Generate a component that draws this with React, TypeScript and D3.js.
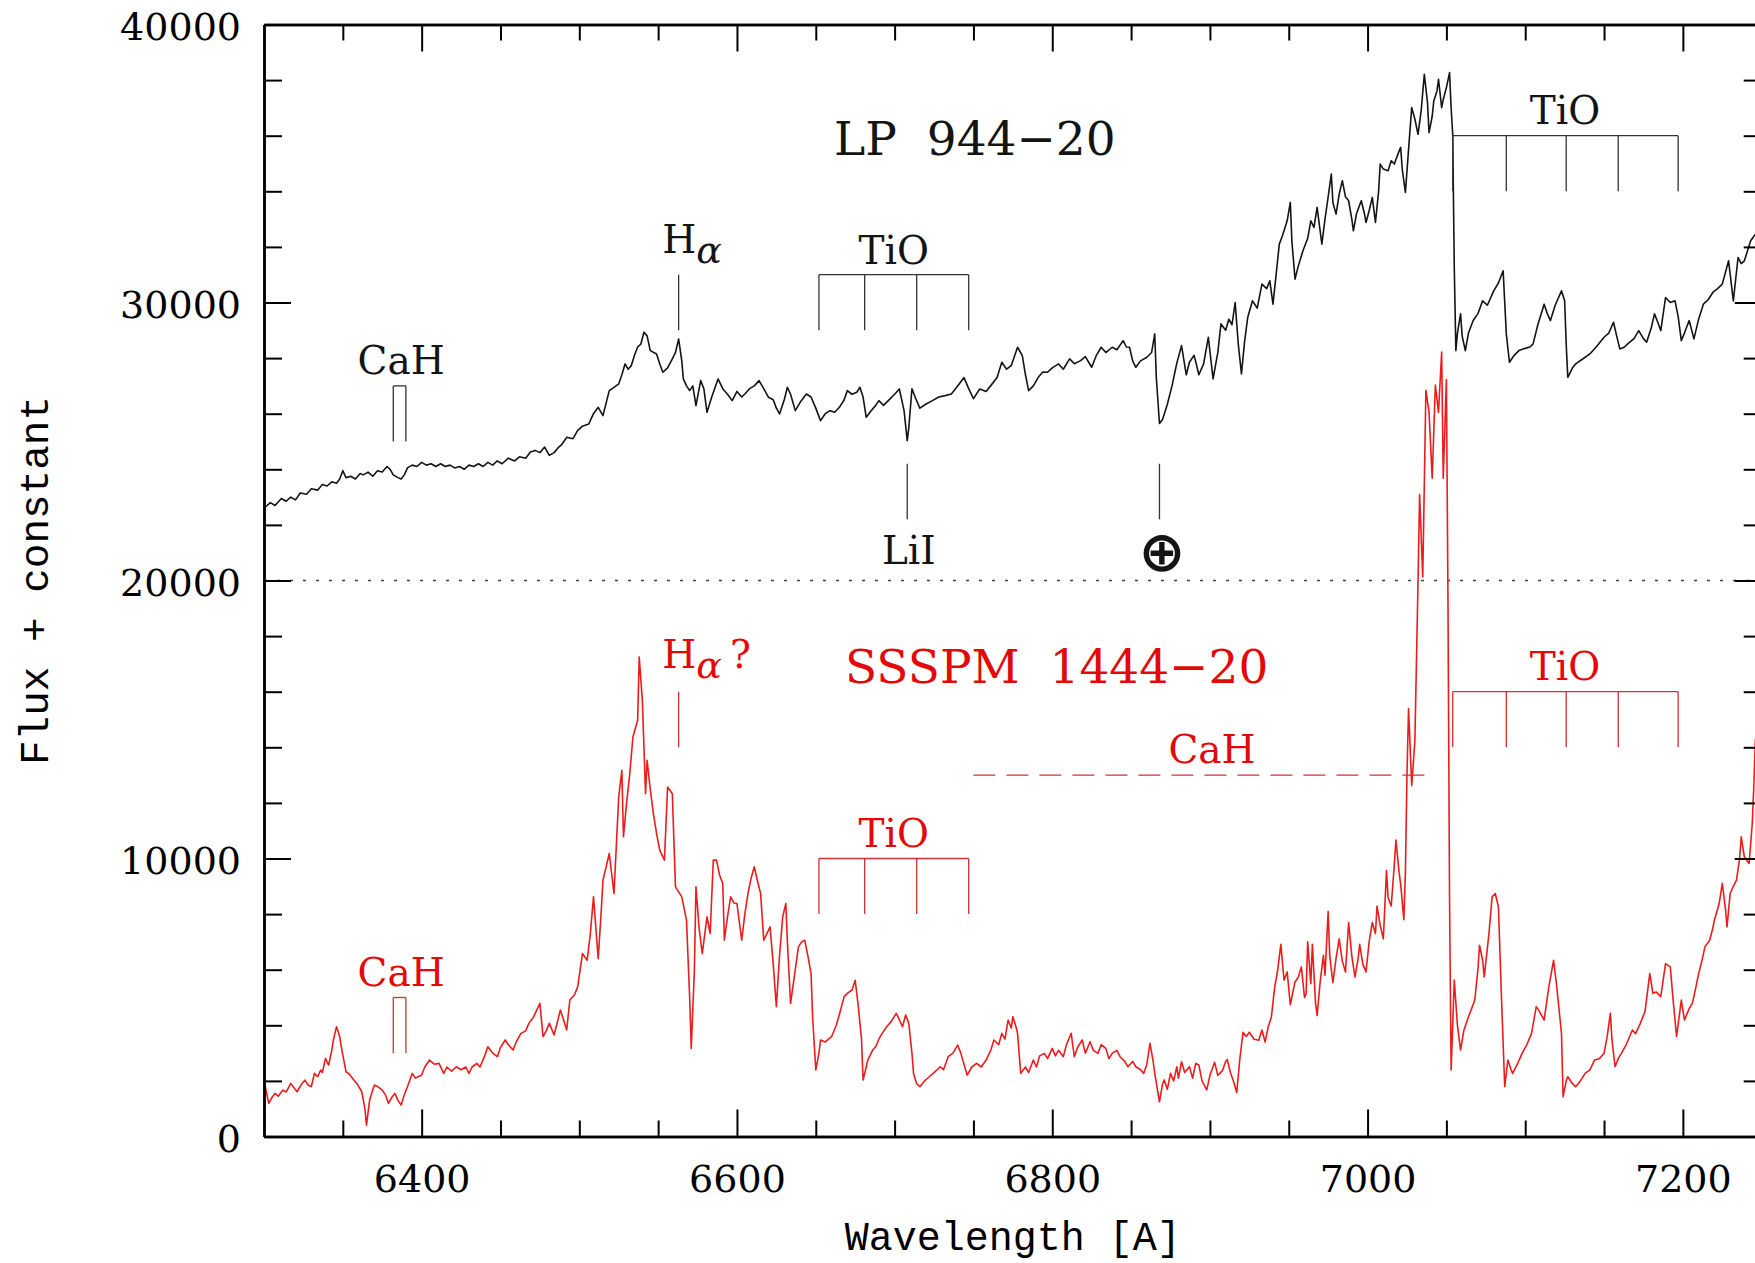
import { useEffect, useRef } from 'react'
import * as d3 from 'd3'

type Pt = [number, number]

// LP 944-20 : [wavelength A, flux + constant]
const lp944Spectrum: Pt[] = [
  [6300, 22600], [6304, 22800], [6307, 22700], [6311, 22950], [6314, 22850], [6317, 23000], [6320, 22900],
  [6323, 23150], [6327, 23100], [6330, 23300], [6334, 23250], [6337, 23450], [6340, 23400], [6343, 23550],
  [6346, 23500], [6348, 23650], [6350, 23950], [6352, 23700], [6355, 23750], [6358, 23650], [6361, 23850],
  [6363, 23800], [6366, 23900], [6369, 23750], [6372, 23950], [6375, 23900], [6378, 24100], [6380, 24000],
  [6382, 23800], [6385, 23700], [6387, 23650], [6389, 23800], [6391, 24050], [6394, 24150], [6397, 24100],
  [6400, 24250], [6403, 24150], [6406, 24200], [6409, 24100], [6412, 24200], [6415, 24100], [6418, 24150],
  [6421, 24050], [6424, 24100], [6427, 24000], [6430, 24150], [6433, 24100], [6436, 24200], [6439, 24100],
  [6442, 24250], [6445, 24150], [6448, 24300], [6451, 24200], [6455, 24400], [6459, 24300], [6462, 24450],
  [6466, 24400], [6469, 24620], [6472, 24680], [6475, 24600], [6478, 24800], [6481, 24500], [6484, 24600],
  [6487, 24800], [6489, 24900], [6492, 25150], [6496, 25100], [6499, 25400], [6502, 25550], [6506, 25630],
  [6509, 26000], [6512, 26230], [6515, 25930], [6519, 26830], [6522, 26950], [6525, 27070], [6527, 27400],
  [6529, 27790], [6531, 27600], [6533, 27730], [6535, 28100], [6537, 28400], [6539, 28500], [6541, 28930],
  [6543, 28800], [6545, 28270], [6549, 28150], [6551, 27800], [6553, 27490], [6556, 27650], [6559, 27970],
  [6561, 28200], [6563, 28690], [6565, 27900], [6566, 27250], [6568, 27000], [6570, 26830], [6572, 27000],
  [6574, 26290], [6577, 27190], [6579, 26900], [6581, 26050], [6584, 26600], [6588, 27250], [6591, 26900],
  [6594, 26700], [6597, 26470], [6600, 26800], [6603, 26600], [6605, 26710], [6608, 26900], [6611, 27000],
  [6614, 27190], [6617, 26900], [6620, 26590], [6623, 26500], [6625, 26200], [6627, 25990], [6630, 26500],
  [6632, 26950], [6634, 26700], [6637, 26110], [6640, 26400], [6644, 26710], [6647, 26600], [6650, 26200],
  [6653, 25750], [6656, 26000], [6659, 26110], [6662, 26050], [6665, 26230], [6668, 26500], [6670, 26830],
  [6673, 26700], [6676, 26770], [6678, 26950], [6680, 26600], [6682, 25870], [6685, 26100], [6688, 26300],
  [6690, 26470], [6693, 26300], [6696, 26470], [6700, 26700], [6703, 26890], [6706, 26110], [6708, 25030],
  [6709, 25500], [6711, 26900], [6713, 26600], [6716, 26200], [6720, 26350], [6724, 26470], [6728, 26600],
  [6732, 26650], [6736, 26710], [6740, 27000], [6744, 27300], [6747, 26900], [6750, 26540], [6754, 26890],
  [6758, 26800], [6761, 27010], [6765, 27300], [6768, 27850], [6771, 27600], [6774, 27730], [6778, 28390],
  [6781, 28090], [6783, 27400], [6785, 26830], [6788, 27000], [6791, 27300], [6794, 27500], [6797, 27490],
  [6800, 27650], [6804, 27790], [6807, 27600], [6811, 27970], [6814, 27800], [6818, 27910], [6821, 28050],
  [6825, 27670], [6828, 28100], [6831, 28390], [6834, 28200], [6838, 28390], [6841, 28300], [6845, 28630],
  [6847, 28400], [6849, 28390], [6851, 27900], [6853, 27670], [6856, 27900], [6860, 28030], [6863, 28200],
  [6865, 28870], [6866, 27300], [6868, 25650], [6870, 25800], [6873, 26340], [6876, 27010], [6879, 27820],
  [6882, 28450], [6885, 27400], [6887, 27850], [6890, 28100], [6893, 27400], [6896, 27790], [6899, 28750],
  [6902, 27250], [6905, 28200], [6907, 29230], [6910, 29000], [6912, 29400], [6914, 29200], [6916, 30000],
  [6918, 28500], [6920, 27430], [6922, 28600], [6924, 29470], [6927, 30060], [6930, 29800], [6933, 30660],
  [6936, 30500], [6938, 30780], [6940, 29940], [6942, 31000], [6944, 32100], [6946, 32400], [6949, 32940],
  [6951, 33600], [6952, 32200], [6954, 30840], [6956, 31300], [6959, 31860], [6962, 32300], [6964, 32940],
  [6966, 32700], [6968, 33420], [6971, 32100], [6973, 33000], [6975, 33800], [6977, 34620], [6978, 33600],
  [6980, 33180], [6982, 33900], [6984, 34380], [6986, 33800], [6988, 33660], [6990, 33000], [6991, 32580],
  [6993, 33200], [6996, 33660], [6998, 33200], [6999, 32880], [7001, 33300], [7003, 33780], [7005, 32880],
  [7007, 34000], [7008, 34980], [7010, 34800], [7013, 34740], [7015, 35100], [7017, 34980], [7019, 35300],
  [7021, 35580], [7022, 34800], [7024, 33960], [7026, 35500], [7028, 37010], [7030, 36600], [7032, 36050],
  [7034, 36900], [7036, 38210], [7038, 37200], [7039, 36110], [7041, 36700], [7042, 37250], [7044, 37600],
  [7045, 38030], [7047, 37010], [7048, 37300], [7050, 37730], [7052, 38270], [7053, 37000], [7054, 36050],
  [7055, 31260], [7056, 28270], [7057, 28900], [7059, 29590], [7060, 28800], [7062, 28270], [7064, 28900],
  [7067, 29350], [7070, 29600], [7073, 30060], [7076, 29900], [7080, 30420], [7083, 30700], [7086, 31140],
  [7087, 30000], [7088, 28870], [7090, 27850], [7093, 28100], [7096, 28270], [7100, 28350], [7103, 28400],
  [7105, 28510], [7108, 29200], [7112, 29940], [7114, 29600], [7116, 29350], [7119, 29900], [7123, 30420],
  [7125, 30060], [7126, 28500], [7127, 27310], [7130, 27650], [7132, 27790], [7136, 27950], [7141, 28150],
  [7145, 28400], [7150, 28750], [7153, 28900], [7156, 29290], [7158, 28800], [7160, 28330], [7163, 28400],
  [7165, 28510], [7169, 28700], [7172, 28990], [7175, 28700], [7177, 28570], [7180, 29100], [7182, 29590],
  [7184, 29300], [7186, 28990], [7189, 30180], [7192, 30000], [7195, 30060], [7197, 29500], [7199, 28630],
  [7201, 28900], [7204, 29350], [7207, 28690], [7210, 29400], [7213, 29940], [7216, 30100], [7219, 30360],
  [7222, 30500], [7225, 30660], [7229, 31500], [7232, 30060], [7235, 31620], [7237, 31400], [7239, 31500],
  [7243, 32220], [7246, 32460],
]

// SSSPM 1444-20 : [wavelength A, flux]
const ssspmSpectrum: Pt[] = [
  [6300, 2030], [6303, 1190], [6305, 1400], [6307, 1550], [6309, 1450], [6312, 1670], [6314, 1600],
  [6317, 1910], [6319, 1750], [6321, 1610], [6324, 1900], [6326, 2030], [6328, 1850], [6330, 1790],
  [6332, 2270], [6334, 2150], [6336, 2390], [6337, 2300], [6339, 2810], [6341, 2570], [6343, 3100],
  [6344, 3470], [6346, 3950], [6348, 3600], [6349, 3230], [6352, 2330], [6354, 2250], [6357, 2030],
  [6359, 1900], [6362, 1610], [6364, 1000], [6365, 410], [6367, 1310], [6370, 1850], [6372, 1800],
  [6375, 1670], [6377, 1500], [6379, 1190], [6381, 1400], [6383, 1550], [6385, 1300], [6387, 1130],
  [6389, 1500], [6391, 1790], [6394, 2270], [6396, 2100], [6400, 2210], [6402, 2500], [6405, 2750],
  [6408, 2600], [6411, 2630], [6414, 2270], [6416, 2500], [6419, 2350], [6422, 2510], [6425, 2400],
  [6428, 2500], [6430, 2270], [6432, 2500], [6435, 2630], [6437, 2500], [6440, 2900], [6442, 3230],
  [6445, 3000], [6448, 2870], [6450, 3200], [6453, 3470], [6455, 3300], [6458, 3110], [6460, 3400],
  [6463, 3710], [6466, 3800], [6468, 4070], [6471, 4300], [6475, 4790], [6477, 3590], [6479, 3800],
  [6481, 4070], [6484, 3650], [6486, 4100], [6488, 4550], [6490, 4200], [6492, 3830], [6494, 4910],
  [6497, 5100], [6499, 5390], [6502, 6580], [6505, 6340], [6507, 7300], [6509, 8620], [6512, 6400],
  [6514, 8200], [6515, 9220], [6517, 9700], [6519, 10180], [6522, 8740], [6525, 12210], [6527, 13170],
  [6528, 10780], [6530, 12000], [6532, 13050], [6534, 14370], [6537, 14970], [6538, 17250], [6540, 15690],
  [6542, 12330], [6543, 13530], [6545, 12500], [6547, 11610], [6549, 10900], [6551, 10300], [6554, 9940],
  [6556, 12570], [6559, 12330], [6561, 8980], [6563, 8800], [6565, 8620], [6568, 7780], [6570, 5000],
  [6571, 3170], [6573, 6000], [6574, 8980], [6576, 7500], [6578, 6580], [6581, 7900], [6583, 7300],
  [6585, 9940], [6587, 9940], [6589, 9400], [6591, 9100], [6592, 7060], [6594, 7900], [6596, 8620],
  [6598, 8400], [6600, 8380], [6603, 7060], [6605, 8000], [6607, 8740], [6609, 9300], [6611, 9700],
  [6613, 9200], [6615, 8740], [6617, 7060], [6619, 7300], [6621, 7540], [6623, 6200], [6625, 4670],
  [6627, 6500], [6629, 7900], [6631, 8380], [6632, 7000], [6634, 4790], [6636, 5600], [6639, 6820],
  [6641, 7000], [6643, 7060], [6645, 6500], [6647, 5860], [6648, 4300], [6650, 2390], [6652, 3000],
  [6653, 3470], [6656, 3400], [6660, 3590], [6663, 4000], [6665, 4400], [6668, 5030], [6670, 5150],
  [6673, 5270], [6675, 5620], [6677, 4670], [6679, 3500], [6680, 2030], [6682, 2500], [6683, 2750],
  [6686, 3100], [6688, 3230], [6690, 3500], [6692, 3700], [6695, 3950], [6698, 4150], [6701, 4430],
  [6703, 4200], [6705, 3950], [6707, 4370], [6709, 4070], [6711, 3000], [6712, 2270], [6714, 1900],
  [6716, 1790], [6719, 2000], [6722, 2150], [6725, 2300], [6729, 2510], [6731, 2400], [6734, 2870],
  [6737, 3000], [6740, 3290], [6742, 3000], [6744, 2600], [6746, 2210], [6749, 2500], [6752, 2630],
  [6755, 2500], [6758, 2750], [6761, 3100], [6763, 3470], [6766, 3300], [6768, 3710], [6770, 3500],
  [6772, 4190], [6774, 3900], [6775, 4310], [6777, 3950], [6778, 3700], [6780, 2270], [6783, 2500],
  [6785, 2300], [6788, 2750], [6790, 2500], [6792, 2900], [6795, 2990], [6797, 2800], [6800, 3170],
  [6802, 2900], [6804, 3100], [6807, 2870], [6809, 3300], [6812, 3710], [6814, 2870], [6816, 3200],
  [6819, 3470], [6821, 3000], [6824, 3410], [6826, 3100], [6829, 2990], [6831, 3300], [6834, 3170],
  [6836, 2800], [6838, 2990], [6841, 3100], [6843, 2870], [6846, 2700], [6848, 2510], [6851, 2700],
  [6853, 2510], [6856, 2400], [6858, 2270], [6860, 2600], [6862, 3350], [6864, 2700], [6865, 2270],
  [6868, 1250], [6870, 1900], [6871, 2030], [6873, 1700], [6875, 2270], [6877, 2000], [6879, 2510],
  [6880, 2100], [6882, 2690], [6884, 2300], [6887, 2510], [6889, 2100], [6891, 2630], [6893, 2570],
  [6895, 2000], [6898, 1680], [6900, 2200], [6903, 2670], [6905, 2200], [6908, 2370], [6910, 2700],
  [6911, 2770], [6913, 2300], [6915, 1980], [6917, 1580], [6919, 2800], [6921, 3750], [6923, 3600],
  [6925, 3750], [6928, 3500], [6931, 3460], [6933, 3830], [6935, 3400], [6937, 3950], [6939, 4300],
  [6941, 5330], [6943, 6000], [6945, 6910], [6947, 5620], [6949, 5920], [6951, 4740], [6953, 5300],
  [6954, 5560], [6956, 5730], [6958, 6100], [6960, 5000], [6961, 5130], [6962, 7000], [6964, 5500],
  [6965, 6910], [6967, 4800], [6968, 4350], [6970, 5600], [6972, 6520], [6973, 5800], [6975, 8090],
  [6976, 6500], [6978, 5530], [6980, 6400], [6982, 7110], [6984, 6300], [6986, 5920], [6988, 7700],
  [6990, 6500], [6992, 5730], [6994, 6400], [6995, 6910], [6997, 6200], [6999, 5920], [7001, 7000],
  [7003, 7700], [7005, 7300], [7006, 8290], [7008, 7600], [7010, 7110], [7012, 9570], [7013, 8600],
  [7015, 8290], [7017, 9800], [7018, 10660], [7020, 9500], [7021, 9080], [7023, 7800], [7024, 9500],
  [7025, 13030], [7026, 15390], [7028, 12630], [7030, 14210], [7032, 19930], [7033, 23090], [7035, 20130],
  [7037, 26840], [7039, 26050], [7041, 23680], [7043, 27030], [7045, 26050], [7047, 28220], [7048, 23680],
  [7050, 27230], [7051, 19340], [7052, 8490], [7053, 2390], [7055, 5630], [7057, 4000], [7059, 3110],
  [7061, 3800], [7064, 4310], [7066, 4600], [7068, 4910], [7070, 6000], [7071, 6880], [7073, 6340],
  [7074, 5740], [7077, 7300], [7079, 8620], [7081, 8740], [7083, 8260], [7085, 4910], [7087, 1790],
  [7089, 2750], [7091, 2400], [7092, 2270], [7095, 2600], [7098, 2990], [7101, 3300], [7104, 3710],
  [7107, 4670], [7109, 4500], [7112, 4190], [7115, 5390], [7118, 6340], [7120, 5390], [7123, 3710],
  [7124, 1430], [7126, 2000], [7127, 2150], [7130, 1900], [7132, 1790], [7135, 2000], [7138, 2270],
  [7141, 2400], [7144, 2750], [7147, 2800], [7150, 2990], [7152, 3600], [7154, 4430], [7155, 3500],
  [7157, 2510], [7159, 2800], [7161, 2990], [7164, 3300], [7168, 3830], [7170, 3700], [7173, 4070],
  [7176, 4500], [7179, 5860], [7181, 5150], [7183, 5200], [7186, 5030], [7189, 6220], [7192, 6100],
  [7194, 4800], [7196, 3590], [7199, 4910], [7201, 4190], [7204, 4600], [7206, 4790], [7208, 5300],
  [7210, 5860], [7212, 6300], [7214, 6820], [7217, 7060], [7219, 7500], [7220, 7780], [7223, 8380],
  [7225, 9100], [7227, 8200], [7228, 7540], [7230, 8740], [7232, 9000], [7234, 9220], [7236, 10000],
  [7237, 10780], [7239, 10060], [7242, 9820], [7244, 11250], [7245, 12600], [7246, 14300],
]

const xMajorTicks = [6400, 6600, 6800, 7000, 7200]
const xMinorTicks = [6350, 6450, 6500, 6550, 6650, 6700, 6750, 6850, 6900, 6950, 7050, 7100, 7150]
const yMajorTicks = [0, 10000, 20000, 30000, 40000]
const yMinorTicks = [2000, 4000, 6000, 8000, 12000, 14000, 16000, 18000, 22000, 24000, 26000, 28000, 32000, 34000, 36000, 38000]

// line identifications (A)
const tioBandsShort = [6652, 6681, 6714, 6747]
const tioBandsLong = [7054, 7088, 7126, 7159, 7197]
const cahBands = [6382, 6390]
const cahWideBand = [6750, 7043]
const halphaLine = 6563
const liLine = 6708
const telluricLine = 6868

export default function App() {
  const svgRef = useRef<SVGSVGElement>(null)

  useEffect(() => {
    if (!svgRef.current) return
    const svg = d3.select(svgRef.current)
    svg.selectAll('*').remove()

    const x = d3.scaleLinear().domain([6300, 7250]).range([264, 1761.7])
    const y = d3.scaleLinear().domain([0, 40000]).range([1136.5, 24.5])
    const [xl, xr] = x.range()
    const [yb, yt] = y.range()

    const BLACK = '#141414'
    const RED = '#ec1c1c'
    const RED_TXT = '#e40808'
    const serif = 'DejaVu Serif'
    const mono = 'Liberation Mono'

    svg.append('defs').append('clipPath').attr('id', 'plotclip')
      .append('rect').attr('x', xl).attr('y', yt).attr('width', xr - xl).attr('height', yb - yt)

    // separator at 20000
    svg.append('line')
      .attr('x1', xl).attr('x2', xr).attr('y1', y(20000)).attr('y2', y(20000))
      .attr('stroke', '#444').attr('stroke-width', 1.5).attr('stroke-dasharray', '3 10')

    // spectra
    const line = d3.line<Pt>().x(d => x(d[0])).y(d => y(d[1]))
    const spec = svg.append('g').attr('clip-path', 'url(#plotclip)')
    spec.append('path').datum(ssspmSpectrum).attr('d', line)
      .attr('fill', 'none').attr('stroke', RED).attr('stroke-width', 1.6).attr('stroke-linejoin', 'round')
    spec.append('path').datum(lp944Spectrum).attr('d', line)
      .attr('fill', 'none').attr('stroke', BLACK).attr('stroke-width', 1.6).attr('stroke-linejoin', 'round')

    // annotation marks
    const ann = svg.append('g')
    const bracket = (bands: number[], top: number, bottom: number, color: string) => {
      ann.append('line')
        .attr('x1', x(bands[0])).attr('x2', x(bands[bands.length - 1]))
        .attr('y1', y(top)).attr('y2', y(top))
        .attr('stroke', color).attr('stroke-width', 1.3)
      bands.forEach(b => {
        ann.append('line')
          .attr('x1', x(b)).attr('x2', x(b)).attr('y1', y(top)).attr('y2', y(bottom))
          .attr('stroke', color).attr('stroke-width', 1.3)
      })
    }
    const tick = (w: number, top: number, bottom: number, color: string) => {
      ann.append('line')
        .attr('x1', x(w)).attr('x2', x(w)).attr('y1', y(top)).attr('y2', y(bottom))
        .attr('stroke', color).attr('stroke-width', 1.3)
    }

    bracket(tioBandsShort, 31000, 29000, '#333')
    bracket(tioBandsLong, 36000, 34000, '#333')
    bracket(cahBands, 27000, 25000, '#333')
    tick(halphaLine, 31000, 29000, '#333')
    tick(liLine, 24200, 22200, '#333')
    tick(telluricLine, 24200, 22200, '#333')

    bracket(tioBandsShort, 10000, 8000, '#d43030')
    bracket(tioBandsLong, 16000, 14000, '#d43030')
    bracket(cahBands, 5000, 3000, '#d43030')
    tick(halphaLine, 16000, 14000, '#d43030')
    ann.append('line')
      .attr('x1', x(cahWideBand[0])).attr('x2', x(cahWideBand[1]))
      .attr('y1', y(13000)).attr('y2', y(13000))
      .attr('stroke', '#d43030').attr('stroke-width', 1.3).attr('stroke-dasharray', '22 11')

    const label = (txt: string, wx: number, fy: number, color: string, size: number, anchor = 'middle') =>
      ann.append('text')
        .attr('x', x(wx)).attr('y', y(fy))
        .attr('text-anchor', anchor)
        .attr('xml:space', 'preserve').style('white-space', 'pre')
        .attr('font-family', serif).attr('font-size', size).attr('fill', color)
        .text(txt)

    label('CaH', 6387, 27440, BLACK, 39)
    label('TiO', 6699.5, 31400, BLACK, 39)
    label('TiO', 7125.3, 36430, BLACK, 39)
    label('LiI', 6709, 20610, BLACK, 39)
    label('LP  944\u221220', 6661.6, 35310, BLACK, 47, 'start')
    ann.append('text')
      .attr('x', x(6869.6)).attr('y', y(20330))
      .attr('text-anchor', 'middle')
      .attr('font-family', 'DejaVu Sans').attr('font-weight', 'bold').attr('font-size', 56).attr('fill', BLACK)
      .text('\u2295')

    label('SSSPM  1444\u221220', 6668.5, 16300, RED_TXT, 47, 'start')
    label('CaH', 6901.3, 13420, RED_TXT, 39)
    label('TiO', 6699.5, 10400, RED_TXT, 39)
    label('TiO', 7125.3, 16410, RED_TXT, 39)
    label('CaH', 6387, 5410, RED_TXT, 39)

    const halpha = (fy: number, color: string, suffix: string) => {
      const t = ann.append('text')
        .attr('x', x(6552.6)).attr('y', y(fy))
        .attr('font-family', serif).attr('font-size', 39).attr('fill', color)
      t.append('tspan').text('H')
      t.append('tspan').attr('dy', 10).attr('font-style', 'italic').attr('font-size', 38).text('\u03b1')
      if (suffix) t.append('tspan').attr('dy', -10).attr('dx', 8).text(suffix)
    }
    halpha(31790, BLACK, '')
    halpha(16840, RED_TXT, '?')

    // axes
    const styleAxis = (g: d3.Selection<SVGGElement, unknown, null, undefined>) => {
      g.select('.domain').attr('stroke', '#000').attr('stroke-width', 2.5)
      g.selectAll('.tick line').attr('stroke', '#000').attr('stroke-width', 2)
    }
    const axes = svg.append('g')
    const noLabel = () => ''

    axes.append('g').attr('transform', `translate(0,${yb})`)
      .call(d3.axisBottom(x).tickValues(xMinorTicks).tickSize(-16).tickSizeOuter(0).tickFormat(noLabel))
      .call(styleAxis)
    const bottom = axes.append('g').attr('transform', `translate(0,${yb})`)
      .call(d3.axisBottom(x).tickValues(xMajorTicks).tickSize(-27).tickSizeOuter(0).tickPadding(29).tickFormat(d3.format('d')))
      .call(styleAxis)
    bottom.selectAll('text').attr('font-family', serif).attr('font-size', 38).attr('fill', '#000')

    axes.append('g').attr('transform', `translate(0,${yt})`)
      .call(d3.axisTop(x).tickValues(xMinorTicks).tickSize(-16).tickSizeOuter(0).tickFormat(noLabel))
      .call(styleAxis)
    axes.append('g').attr('transform', `translate(0,${yt})`)
      .call(d3.axisTop(x).tickValues(xMajorTicks).tickSize(-27).tickSizeOuter(0).tickFormat(noLabel))
      .call(styleAxis)

    axes.append('g').attr('transform', `translate(${xl},0)`)
      .call(d3.axisLeft(y).tickValues(yMinorTicks).tickSize(-18).tickSizeOuter(0).tickFormat(noLabel))
      .call(styleAxis)
    const left = axes.append('g').attr('transform', `translate(${xl},0)`)
      .call(d3.axisLeft(y).tickValues(yMajorTicks).tickSize(-27).tickSizeOuter(0).tickPadding(23).tickFormat(d3.format('d')))
      .call(styleAxis)
    left.selectAll('text').attr('font-family', serif).attr('font-size', 38).attr('fill', '#000').attr('dy', '0.4em')

    axes.append('g').attr('transform', `translate(${xr},0)`)
      .call(d3.axisRight(y).tickValues(yMinorTicks).tickSize(-18).tickSizeOuter(0).tickFormat(noLabel))
      .call(styleAxis)
    axes.append('g').attr('transform', `translate(${xr},0)`)
      .call(d3.axisRight(y).tickValues(yMajorTicks).tickSize(-27).tickSizeOuter(0).tickFormat(noLabel))
      .call(styleAxis)

    // axis titles
    svg.append('text')
      .attr('x', (xl + xr) / 2).attr('y', 1250)
      .attr('text-anchor', 'middle')
      .attr('font-family', mono).attr('font-size', 40).attr('fill', '#000')
      .text('Wavelength [A]')
    svg.append('text')
      .attr('transform', `translate(48,${y(20000)}) rotate(-90)`)
      .attr('text-anchor', 'middle')
      .attr('font-family', mono).attr('font-size', 41).attr('fill', '#000')
      .text('Flux + constant')
  }, [])

  return (
    <svg
      ref={svgRef}
      width={1755}
      height={1263}
      style={{ position: 'absolute', left: 0, top: 0, background: '#fff' }}
    />
  )
}
